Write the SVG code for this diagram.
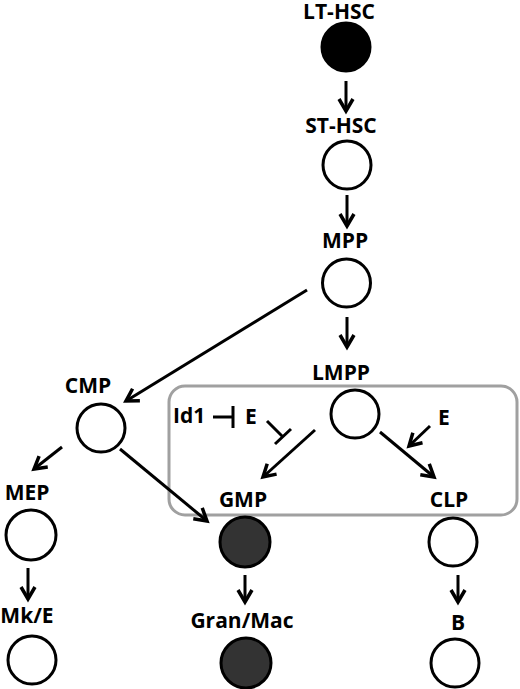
<svg xmlns="http://www.w3.org/2000/svg" width="520" height="689" viewBox="0 0 520 689">
<style>
text{font-family:"Open Sans","Liberation Sans",sans-serif;font-weight:bold;font-size:21px;fill:#000;}
.lbl{text-anchor:middle;}
.cell{stroke:#000;stroke-width:3;fill:#fff;}
.dark{fill:#333;}
.black{fill:#000;}
.arr{stroke:#000;stroke-width:3;fill:none;marker-end:url(#ah);}
.inh{stroke:#000;stroke-width:3;fill:none;}
</style>
<defs>
<marker id="ah" markerUnits="userSpaceOnUse" markerWidth="18" markerHeight="18" viewBox="0 0 18 18" refX="14" refY="9" orient="auto">
<path d="M2,2 L14,9 L2,16" fill="none" stroke="#000" stroke-width="3.5"/>
</marker>
</defs>
<rect id="lmpp-box" x="169" y="386" width="348" height="129" rx="16" fill="none" stroke="#a0a0a0" stroke-width="3"/>
<g id="connectors">
<line class="arr" x1="346" y1="81" x2="346" y2="111"/>
<line class="arr" x1="347" y1="195" x2="347" y2="226"/>
<line class="arr" x1="347" y1="317" x2="347" y2="347"/>
<line class="arr" x1="307" y1="290" x2="126" y2="401"/>
<line class="arr" x1="62" y1="447" x2="34" y2="469"/>
<line class="arr" x1="28" y1="568" x2="28" y2="599"/>
<line class="arr" x1="120" y1="449" x2="207" y2="521"/>
<line class="arr" x1="315" y1="430" x2="263" y2="477"/>
<line class="arr" x1="380" y1="432" x2="434" y2="477"/>
<line class="arr" x1="430" y1="426" x2="409" y2="446"/>
<line class="arr" x1="245" y1="575" x2="245" y2="602"/>
<line class="arr" x1="458" y1="575" x2="458" y2="602"/>
<path class="inh" d="M213,417 H233 M233,406 V428"/>
<path class="inh" d="M267,421 L283,437 M275,444 L291,429"/>
</g>
<g id="lt-hsc"><text class="lbl" x="339" y="19">LT-HSC</text><circle class="cell black" cx="346" cy="47" r="24"/></g>
<g id="st-hsc"><text class="lbl" x="341" y="133">ST-HSC</text><circle class="cell" cx="347" cy="165" r="24"/></g>
<g id="mpp"><text class="lbl" x="345" y="248">MPP</text><circle class="cell" cx="346.5" cy="283" r="24"/></g>
<g id="lmpp"><text class="lbl" x="341" y="380">LMPP</text><circle class="cell" cx="355" cy="414" r="24"/></g>
<g id="cmp"><text class="lbl" x="88" y="393">CMP</text><circle class="cell" cx="101" cy="428" r="24"/></g>
<g id="mep"><text class="lbl" x="27" y="500">MEP</text><circle class="cell" cx="31" cy="535" r="25"/></g>
<g id="mke"><text class="lbl" x="27" y="623">Mk/E</text><circle class="cell" cx="32" cy="660" r="24"/></g>
<g id="gmp"><text class="lbl" x="243" y="507">GMP</text><circle class="cell dark" cx="245" cy="542" r="25"/></g>
<g id="clp"><text class="lbl" x="449" y="507">CLP</text><circle class="cell" cx="453" cy="542" r="24"/></g>
<g id="granmac"><text class="lbl" x="242" y="628">Gran/Mac</text><circle class="cell dark" cx="246" cy="663" r="25"/></g>
<g id="b"><text class="lbl" x="458" y="630">B</text><circle class="cell" cx="455" cy="663" r="24"/></g>
<g id="id1"><text x="173" y="423">Id1</text></g>
<g id="e-left"><text x="245" y="424">E</text></g>
<g id="e-right"><text x="438" y="425">E</text></g>
</svg>
